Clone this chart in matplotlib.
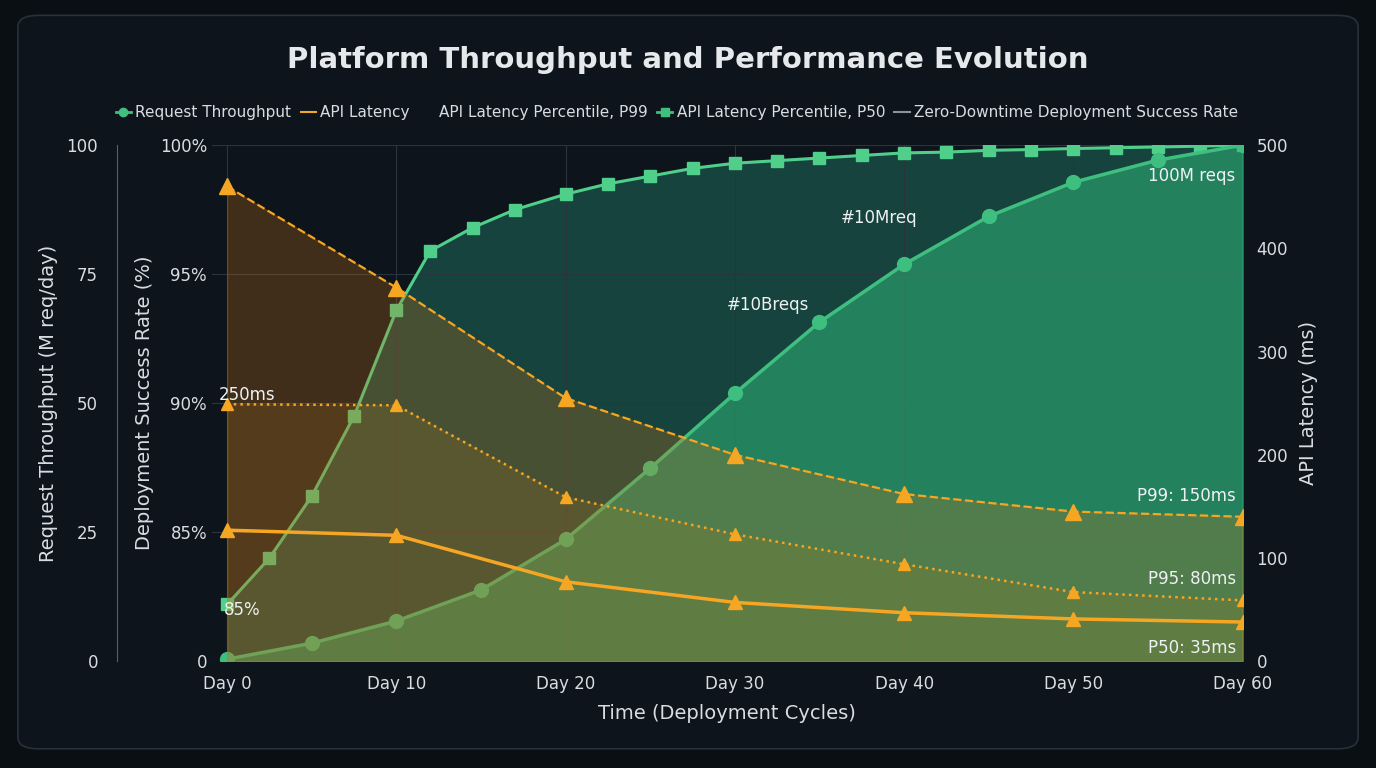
import matplotlib

matplotlib.use("Agg")

import matplotlib.pyplot as plt
from matplotlib.lines import Line2D
from matplotlib.patches import FancyBboxPatch

# data
tp_days = [0, 5, 10, 15, 20, 25, 30, 35, 40, 45, 50, 55, 60]
throughput = [0.4, 3.5, 7.8, 13.8, 23.6, 37.4, 51.9, 65.7, 76.9, 86.2, 92.8, 97.1, 100]

sr_days = [0, 2.5, 5, 7.5, 10, 12, 14.5, 17, 20, 22.5, 25, 27.5, 30, 32.5, 35,
           37.5, 40, 42.5, 45, 47.5, 50, 52.5, 55, 57.5, 60]
success = [82.2, 84.0, 86.4, 89.5, 93.6, 95.9, 96.8, 97.5, 98.1, 98.5, 98.8, 99.1, 99.3,
           99.4, 99.5, 99.6, 99.7, 99.73, 99.8, 99.83, 99.87, 99.9, 99.93, 99.96, 100]

lat_days = [0, 10, 20, 30, 40, 50, 60]
p99 = [460, 362, 255, 200, 162, 145, 140]
p95 = [249, 248, 159, 123, 94, 67, 59]
p50 = [127, 122, 77, 57, 47, 41, 38]

BG = "#0d141b"
GREEN = "#3fbf7f"
GREEN2 = "#4fcf8a"
ORANGE = "#f5a623"
TXT = "#d8dde2"
GRID = "#2a343d"

fig = plt.figure(figsize=(13.76, 7.68), dpi=100, facecolor="#0a0f14")
fig.patches.append(FancyBboxPatch((0.013, 0.025), 0.974, 0.955, boxstyle="round,pad=0,rounding_size=0.015",
                                  transform=fig.transFigure, facecolor=BG, edgecolor="#26313a", lw=1.2,
                                  zorder=-5))

ax = fig.add_axes([0.154, 0.139, 0.749, 0.672])
ax.set_facecolor("none")
ax_tp = ax.twinx()
ax_lat = ax.twinx()
ax.set_zorder(1)
ax_tp.set_zorder(2)
ax_lat.set_zorder(3)

for a in (ax, ax_tp, ax_lat):
    a.patch.set_visible(False)
    for s in a.spines.values():
        s.set_visible(False)
    a.tick_params(colors=TXT, labelsize=12, length=0)

# throughput (outer left axis)
ax_tp.yaxis.set_label_position("left")
ax_tp.yaxis.set_ticks_position("left")
ax_tp.spines["left"].set_visible(True)
ax_tp.spines["left"].set_position(("outward", 68))
ax_tp.spines["left"].set_color("#56606a")
ax_tp.set_ylim(0, 100)
ax_tp.set_yticks([0, 25, 50, 75, 100])
ax_tp.tick_params(axis="y", pad=14)
ax_tp.set_ylabel("Request Throughput (M req/day)", color=TXT, fontsize=14, labelpad=6)

ax.set_xlim(-0.9, 60)
ax.set_ylim(80, 100)
ax.set_yticks([80, 85, 90, 95, 100])
ax.set_yticklabels(["0", "85%", "90%", "95%", "100%"])
ax.set_ylabel("Deployment Success Rate (%)", color=TXT, fontsize=14, labelpad=4)
ax.set_xticks([0, 10, 20, 30, 40, 50, 60])
ax.set_xticklabels([f"Day {d}" for d in range(0, 61, 10)])
ax.tick_params(axis="x", pad=10)
ax.set_xlabel("Time (Deployment Cycles)", color=TXT, fontsize=14, labelpad=8)
ax.grid(color=GRID, lw=0.8)

ax_lat.set_ylim(0, 500)
ax_lat.set_yticks([0, 100, 200, 300, 400, 500])
ax_lat.tick_params(axis="y", pad=10)
ax_lat.set_ylabel("API Latency (ms)", color=TXT, fontsize=14, labelpad=8)

# fills
ax.fill_between(sr_days, success, 80, color="#1f6b5a", alpha=0.55, zorder=1)
ax_tp.fill_between(tp_days, throughput, 0, color="#2fb57a", alpha=0.55, zorder=1)
ax_lat.fill_between(lat_days, p99, 0, color="#c8741a", alpha=0.28, zorder=1)
ax_lat.fill_between(lat_days, p95, 0, color="#a87a20", alpha=0.18, zorder=1)

ax.plot(sr_days, success, color=GREEN2, marker="s", ms=8, lw=2.2, zorder=5)
ax_tp.plot(tp_days, throughput, color=GREEN, marker="o", ms=10, lw=2.5, zorder=6)
ax_lat.plot(lat_days, p99, color=ORANGE, ls="--", marker="^", ms=11, lw=1.6, zorder=6)
ax_lat.plot(lat_days, p95, color=ORANGE, ls=":", marker="^", ms=9, lw=1.8, zorder=6)
ax_lat.plot(lat_days, p50, color=ORANGE, ls="-", marker="^", ms=10, lw=2.5, zorder=6)

kw = dict(color="#eef1f3", fontsize=12, transform=ax_lat.transData, zorder=10)
ax_lat.text(-0.5, 253, "250ms", **kw)
ax_lat.text(-0.2, 45, "85%", **kw)
ax_lat.text(29.5, 340, "#10Breqs", **kw)
ax_lat.text(38.5, 425, "#10Mreq", ha="center", **kw)
ax_lat.text(54.4, 465, "100M reqs", **kw)
ax_lat.text(59.6, 155, "P99: 150ms", ha="right", **kw)
ax_lat.text(59.6, 75, "P95: 80ms", ha="right", **kw)
ax_lat.text(59.6, 8, "P50: 35ms", ha="right", **kw)

fig.text(0.5, 0.922, "Platform Throughput and Performance Evolution", ha="center", va="center",
         color="#e6e9ec", fontsize=21, fontweight="bold")

handles = [
    Line2D([], [], color=GREEN, marker="o", ms=6, lw=2),
    Line2D([], [], color=ORANGE, ls="-", lw=1.5),
    Line2D([], [], color="none"),
    Line2D([], [], color=GREEN, marker="s", ms=6, lw=2),
    Line2D([], [], color="#8a939b", lw=1.5),
]
labels = ["Request Throughput", "API Latency", "API Latency Percentile, P99",
          "API Latency Percentile, P50", "Zero-Downtime Deployment Success Rate"]
fig.legend(handles, labels, loc="center", bbox_to_anchor=(0.492, 0.853), ncol=5, frameon=False,
           fontsize=11, labelcolor=TXT, handlelength=1.0, handletextpad=0.3, columnspacing=0.6)

fig.savefig("out.png", dpi=100, facecolor=fig.get_facecolor())
